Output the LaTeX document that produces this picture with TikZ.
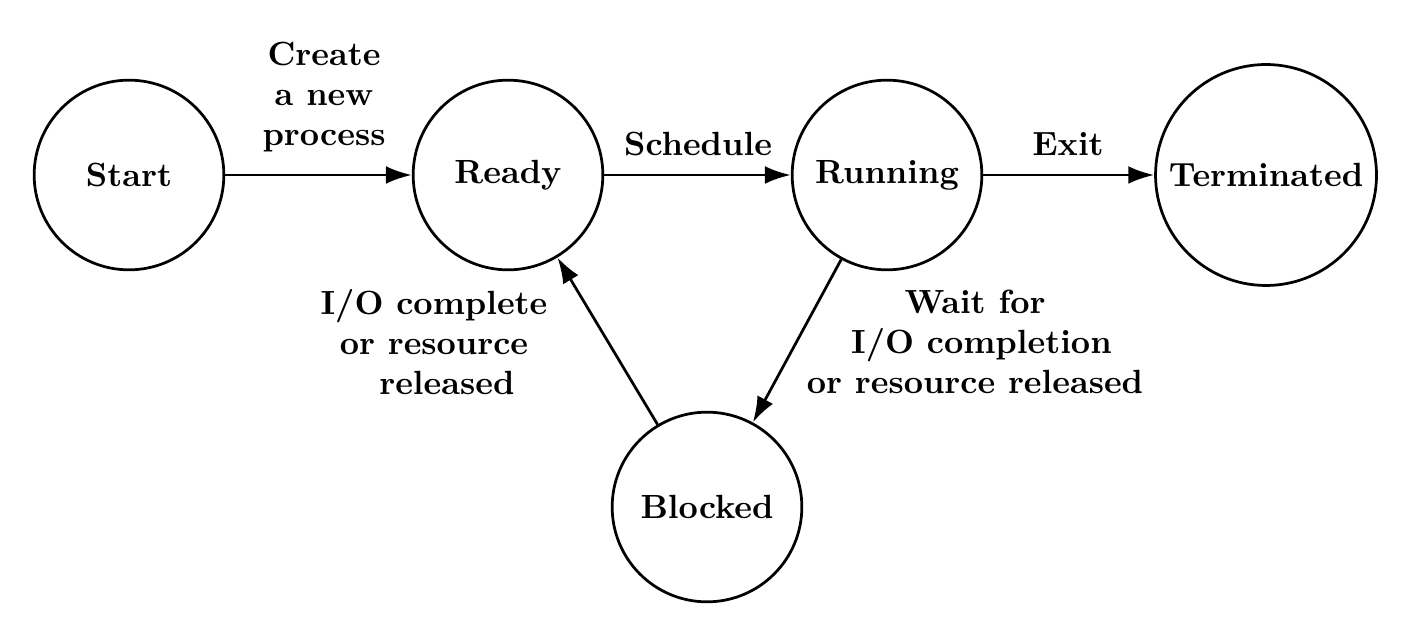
\documentclass[tikz,border=0pt]{standalone}
\usetikzlibrary{arrows.meta}

\tikzset{
  statenode/.style={draw,circle,line width=0.85pt,inner sep=0pt,minimum size=58.8pt,font=\fontsize{10.4}{12.5}\selectfont\bfseries},
  transarrow/.style={line width=0.85pt,-{Latex[length=8pt,width=5.5pt]}},
  labelnode/.style={font=\fontsize{10.4}{12.5}\selectfont\bfseries,align=center,inner sep=0.75pt}
}

\begin{document}
\begin{tikzpicture}[x=0.31pt,y=0.31pt,yscale=-1,xscale=1]
\useasboundingbox (0,0) rectangle (1410,635);

% States
\node[statenode] (start) at (129,175) {Start};
\node[statenode] (ready) at (508,175) {Ready};
\node[statenode] (running) at (887,175) {Running};
\node[statenode,minimum size=68.5pt] (terminated) at (1266,175) {Terminated};
\node[statenode] (blocked) at (707,507) {Blocked};

% Transitions
\draw[transarrow] (start) -- (ready);
\draw[transarrow] (ready) -- (running);
\draw[transarrow] (running) -- (terminated);
\draw[transarrow] (running) -- (blocked);
\draw[transarrow] (blocked) -- (ready);

% Text Node
\node[labelnode] (lblcreate) at (324,97) {Create\\a new\\process};
% Text Node
\node[labelnode] (lblschedule) at (698,144) {Schedule};
% Text Node
\node[labelnode] (lblexit) at (1068,144) {Exit};
% Text Node
\node[labelnode] (lbliodone) at (434,342) {I/O complete\\or resource\\\hspace{8pt}released};
% Text Node
\node[labelnode] (lblwait) at (975,342) {Wait for\\\hspace{4pt}I/O completion\\or resource released};

\end{tikzpicture}
\end{document}
